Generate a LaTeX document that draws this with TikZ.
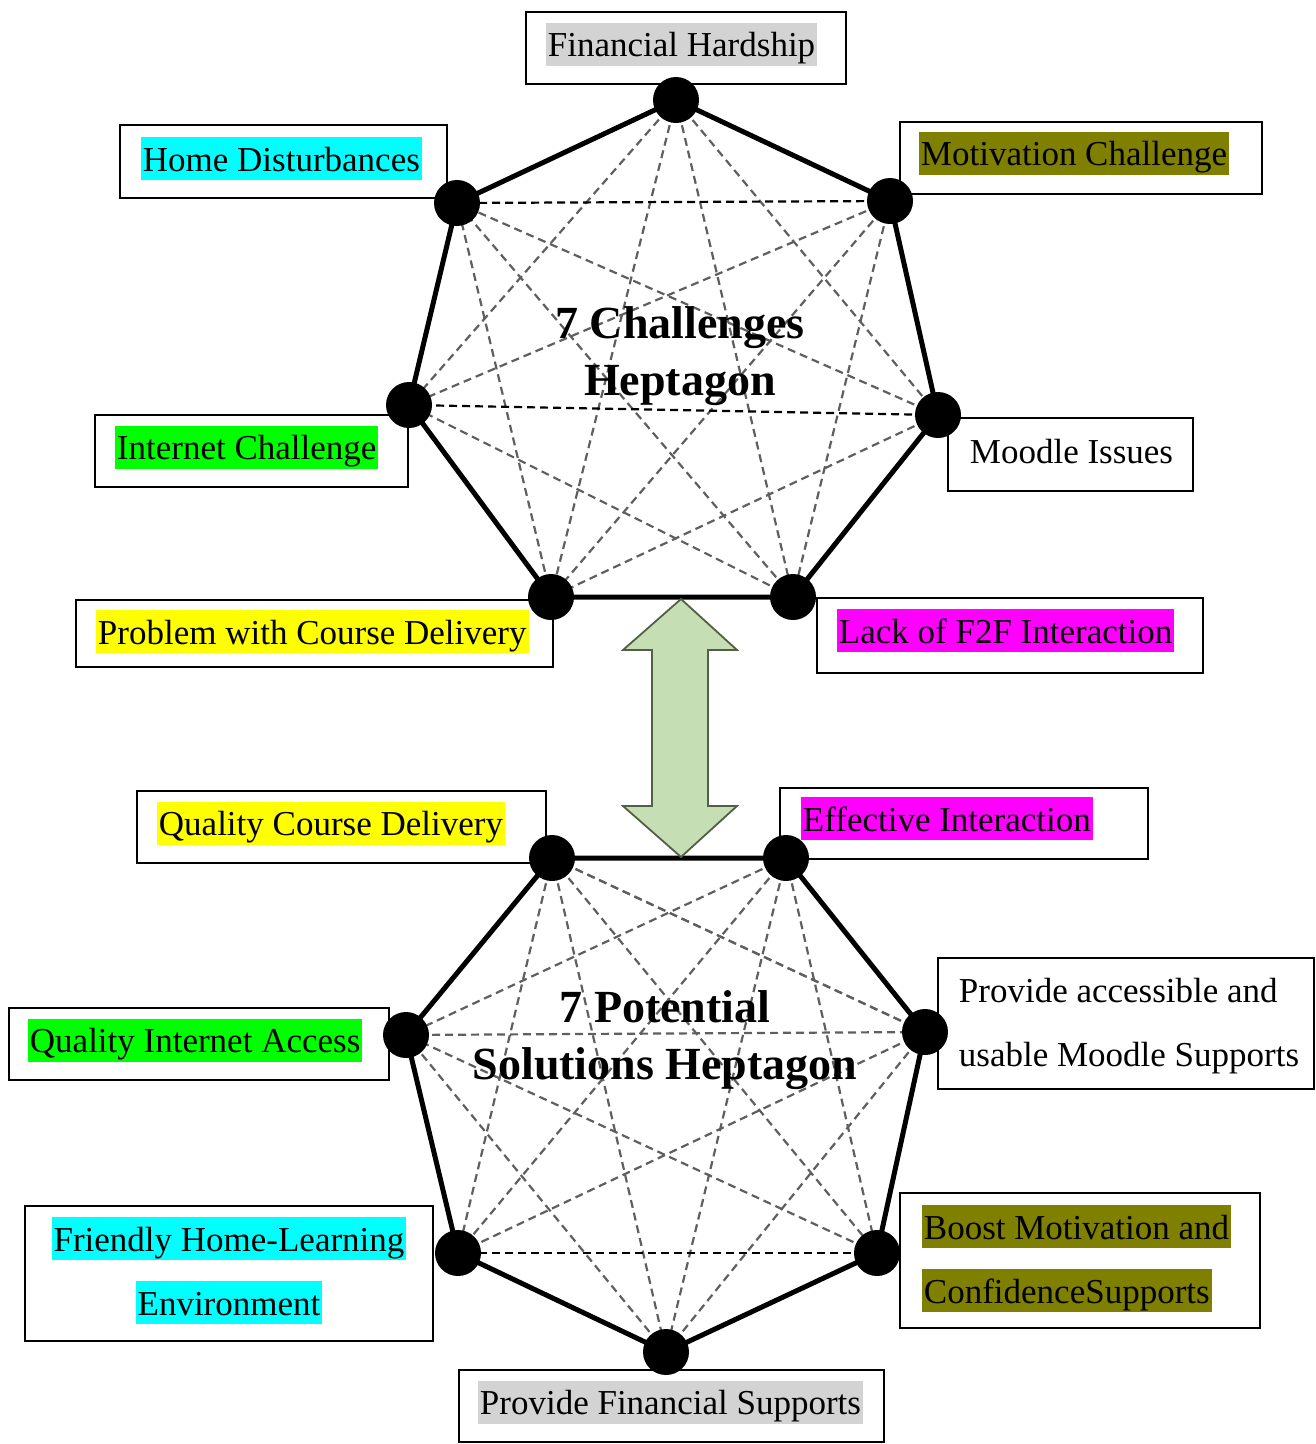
\documentclass[tikz,border=0pt]{standalone}
\usepackage{fontspec}
\setmainfont{Liberation Serif}
\definecolor{hlgray}{RGB}{211,211,211}
\definecolor{hlcyan}{RGB}{0,255,255}
\definecolor{hlolive}{RGB}{128,128,0}
\definecolor{hlgreen}{RGB}{0,255,0}
\definecolor{hlyellow}{RGB}{255,255,0}
\definecolor{hlmag}{RGB}{255,0,255}
\definecolor{arrfill}{RGB}{198,222,180}
\definecolor{arrline}{RGB}{80,95,70}
\definecolor{dgray}{RGB}{95,95,95}
\newcommand\hlt[2]{{\setlength{\fboxsep}{0pt}\colorbox{#1}{\rule[-9pt]{0pt}{43pt}\hspace{2pt}#2\hspace{2pt}}}}
\begin{document}
\begin{tikzpicture}[x=1pt,y=-1pt,
  box/.style={draw, line width=2.5pt, fill=white, inner sep=0pt},
  lbl/.style={inner sep=0pt, font=\fontsize{35}{64}\selectfont, align=left},
  title/.style={inner sep=0pt, font=\bfseries\fontsize{46}{57}\selectfont, align=center},
  edge/.style={line width=5pt, line join=round},
  diag/.style={draw=dgray, line width=2.2pt, dash pattern=on 8pt off 5pt},
  hdiag/.style={draw=black, line width=2.2pt, dash pattern=on 8pt off 5pt},
  dot/.style={circle, fill=black, inner sep=0pt, minimum size=46pt},
  dblarrow/.style={fill=arrfill, draw=arrline, line width=1.8pt, line join=miter}]
\useasboundingbox (0,0) rectangle (1316,1444);

% boxes
\node[box, minimum width=320pt, minimum height=72pt] (fin) at (686,48) {};
\node[box, minimum width=327pt, minimum height=73pt] (home) at (283.5,161.5) {};
\node[box, minimum width=362pt, minimum height=72pt] (motiv) at (1081,158) {};
\node[box, minimum width=313pt, minimum height=72pt] (inet) at (251.5,451) {};
\node[box, minimum width=245pt, minimum height=73pt] (moodle) at (1070.5,454.5) {};
\node[box, minimum width=477pt, minimum height=67pt] (prob) at (314.5,633.5) {};
\node[box, minimum width=386pt, minimum height=75pt] (f2f) at (1010,635.5) {};
\node[box, minimum width=409pt, minimum height=72pt] (qcd) at (341.5,827) {};
\node[box, minimum width=368pt, minimum height=71pt] (eff) at (964,823.5) {};
\node[box, minimum width=376pt, minimum height=131pt] (pam) at (1126,1023.5) {};
\node[box, minimum width=380pt, minimum height=72pt] (qia) at (199,1044) {};
\node[box, minimum width=408pt, minimum height=135pt] (fhl) at (229,1273.5) {};
\node[box, minimum width=360pt, minimum height=135pt] (boost) at (1080,1260.5) {};
\node[box, minimum width=425pt, minimum height=72pt] (pfs) at (671.5,1406) {};

% top heptagon vertices
\coordinate (a1) at (676,100);
\coordinate (a2) at (890,201);
\coordinate (a3) at (938,415);
\coordinate (a4) at (793,597);
\coordinate (a5) at (551,597);
\coordinate (a6) at (409,405);
\coordinate (a7) at (457,203);
% bottom heptagon vertices
\coordinate (b1) at (552,858);
\coordinate (b2) at (786,858);
\coordinate (b3) at (925,1032);
\coordinate (b4) at (877,1253);
\coordinate (b5) at (666,1352);
\coordinate (b6) at (458,1253);
\coordinate (b7) at (406,1035);

% diagonals
\foreach \i/\j in {a1/a3,a1/a4,a1/a5,a1/a6,a2/a4,a2/a5,a2/a6,a3/a5,a3/a7,a4/a6,a4/a7,a5/a7}
  \draw[diag] (\i) -- (\j);
\foreach \i/\j in {a2/a7,a3/a6}
  \draw[hdiag] (\i) -- (\j);
\foreach \i/\j in {b1/b3,b1/b4,b1/b5,b1/b6,b2/b4,b2/b5,b2/b6,b2/b7,b3/b5,b4/b7,b5/b7,b1/b3}
  \draw[diag] (\i) -- (\j);
\draw[diag] (b7) -- (b3);
\draw[hdiag] (b4) -- (b6);
\draw[diag] (b6) -- (b3);

% solid edges
\draw[edge] (a1) -- (a2) -- (a3) -- (a4) -- (a5) -- (a6) -- (a7) -- cycle;
\draw[edge] (b1) -- (b2) -- (b3) -- (b4) -- (b5) -- (b6) -- (b7) -- cycle;

% double arrow
\coordinate (atop) at (681,599);
\coordinate (abot) at (681,857);
\draw[dblarrow] (atop) -- ([shift={(56,51)}]atop) -- ([shift={(27,51)}]atop)
  -- ([shift={(27,-51)}]abot) -- ([shift={(56,-51)}]abot) -- (abot)
  -- ([shift={(-58,-51)}]abot) -- ([shift={(-29,-51)}]abot)
  -- ([shift={(-29,51)}]atop) -- ([shift={(-58,51)}]atop) -- cycle;

% dots
\foreach \p in {a1,a2,a3,a4,a5,a6,a7,b1,b2,b3,b4,b5,b6,b7}
  \node[dot] (d\p) at (\p) {};

% titles
\node[title] (t1) at (680,356) {7 Challenges\\Heptagon};
\node[title] (t2) at (665,1040) {7 Potential\\Solutions Heptagon};

% labels
\node[lbl, anchor=west] (lfin) at ([xshift=21pt,yshift=4pt]fin.west) {\hlt{hlgray}{Financial Hardship}};
\node[lbl, anchor=west] (lhome) at ([xshift=22pt,yshift=3pt]home.west) {\hlt{hlcyan}{Home Disturbances}};
\node[lbl, anchor=west] (lmotiv) at ([xshift=20pt,yshift=5pt]motiv.west) {\hlt{hlolive}{Motivation Challenge}};
\node[lbl, anchor=west] (linet) at ([xshift=21pt,yshift=4pt]inet.west) {\hlt{hlgreen}{Internet Challenge}};
\node[lbl, anchor=west] (lmoodle) at ([xshift=21pt,yshift=4pt]moodle.west) {\hlt{white}{Moodle Issues}};
\node[lbl, anchor=west] (lprob) at ([xshift=21pt,yshift=2pt]prob.west) {\hlt{hlyellow}{Problem with Course Delivery}};
\node[lbl, anchor=west] (lf2f) at ([xshift=21pt,yshift=5pt]f2f.west) {\hlt{hlmag}{Lack of F2F Interaction}};
\node[lbl, anchor=west] (lqcd) at ([xshift=21pt,yshift=4pt]qcd.west) {\hlt{hlyellow}{Quality Course Delivery}};
\node[lbl, anchor=west] (leff) at ([xshift=22pt,yshift=5pt]eff.west) {\hlt{hlmag}{Effective Interaction}};
\node[lbl, anchor=west] (lpam) at ([xshift=20pt,yshift=2pt]pam.west) {\hlt{white}{Provide accessible and}\\\hlt{white}{usable Moodle Supports}};
\node[lbl, anchor=west] (lqia) at ([xshift=20pt,yshift=4pt]qia.west) {\hlt{hlgreen}{Quality Internet Access}};
\node[lbl, align=center] (lfhl) at ([yshift=3pt]fhl.center) {\hlt{hlcyan}{Friendly Home-Learning}\\\hlt{hlcyan}{Environment}};
\node[lbl, anchor=west] (lboost) at ([xshift=23pt,yshift=2pt]boost.west) {\hlt{hlolive}{Boost Motivation and}\\\hlt{hlolive}{ConfidenceSupports}};
\node[lbl, anchor=west] (lpfs) at ([xshift=20pt,yshift=4pt]pfs.west) {\hlt{hlgray}{Provide Financial Supports}};
\end{tikzpicture}
\end{document}
